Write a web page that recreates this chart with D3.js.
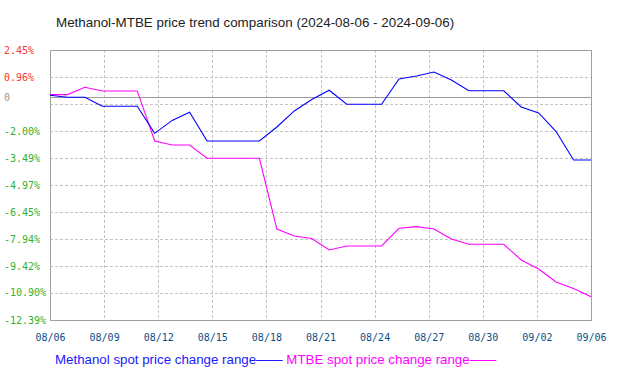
<!DOCTYPE html>
<html>
<head>
<meta charset="utf-8">
<script src="https://cdn.jsdelivr.net/npm/d3@7"></script>
<style>
    body { margin: 0; background: #ffffff; }
    svg  { display: block; }
</style>
</head>
<body>
<svg id="sketchbook"></svg>
<script>
// 日次データ (2024)
const dates = [
    "08-06", "08-07", "08-08", "08-09", "08-10", "08-11", "08-12", "08-13",
    "08-14", "08-15", "08-16", "08-17", "08-18", "08-19", "08-20", "08-21",
    "08-22", "08-23", "08-24", "08-25", "08-26", "08-27", "08-28", "08-29",
    "08-30", "08-31", "09-01", "09-02", "09-03", "09-04", "09-05", "09-06"
];
const methanolChange = [
    -0.04, -0.15, -0.15, -0.64, -0.64, -0.64, -2.13, -1.42,
    -0.97, -2.55, -2.55, -2.55, -2.55, -1.78, -0.90, -0.27,
     0.24, -0.53, -0.53, -0.53,  0.86,  1.02,  1.24,  0.80,
     0.21,  0.21,  0.21, -0.68, -1.01, -2.03, -3.60, -3.60
];
const mtbeChange = [
     0.00,  0.00,  0.40,  0.20,  0.20,  0.20, -2.55, -2.77,
    -2.77, -3.50, -3.50, -3.50, -3.50, -7.39, -7.77, -7.91,
    -8.54, -8.32, -8.32, -8.32, -7.35, -7.26, -7.39, -7.94,
    -8.23, -8.23, -8.23, -9.09, -9.59, -10.30, -10.66, -11.11
];
const yTickValues = [2.45, 0.96, -0.52, -2.00, -3.49, -4.97, -6.45, -7.94, -9.42, -10.90, -12.39];
const yTickLabels = ["2.45%", "0.96%", "", "-2.00%", "-3.49%", "-4.97%", "-6.45%", "-7.94%", "-9.42%", "-10.90%", "-12.39%"];
const xTickLabels = ["08/06", "08/09", "08/12", "08/15", "08/18", "08/21", "08/24", "08/27", "08/30", "09/02", "09/06"];
const titleText = "Methanol-MTBE price trend comparison (2024-08-06 - 2024-09-06)";
const seriesNames = ["Methanol spot price change range", "MTBE spot price change range"];

const W = 619, H = 379;
const box = { left: 50, right: 591, top: 50, bottom: 320 };
const monoFont = "'DejaVu Sans Mono', monospace";
const sansFont = "'Liberation Sans', Arial, sans-serif";

const parseDay = d3.timeParse("%Y-%m-%d");
const days = dates.map((d) => { return parseDay("2024-" + d); });

const svg = d3.select("#sketchbook")
    .attr("width", W)
    .attr("height", H);

svg.append("rect")
    .attr("width", W)
    .attr("height", H)
    .attr("fill", "#ffffff");

const x = d3.scaleTime()
    .domain([days[0], days[days.length - 1]])
    .range([box.left, box.right]);

const xTick = d3.scalePoint()
    .domain(xTickLabels)
    .range([box.left, box.right]);

const y = d3.scaleLinear()
    .domain([yTickValues[yTickValues.length - 1], yTickValues[0]])
    .range([box.bottom, box.top]);

// grid
const grid = svg.append("g").attr("class", "grid")
    .attr("stroke", "#c4c4c4")
    .attr("stroke-width", 1)
    .attr("stroke-dasharray", "3,2")
    .attr("shape-rendering", "crispEdges");

grid.selectAll("line.h")
    .data(yTickValues.slice(1, -1))
    .enter()
    .append("line")
    .attr("class", "h")
    .attr("x1", box.left)
    .attr("x2", box.right)
    .attr("y1", (d) => { return Math.round(y(d)) + 0.5; })
    .attr("y2", (d) => { return Math.round(y(d)) + 0.5; });

grid.selectAll("line.v")
    .data(xTickLabels.slice(1, -1))
    .enter()
    .append("line")
    .attr("class", "v")
    .attr("x1", (d) => { return Math.round(xTick(d)) + 0.5; })
    .attr("x2", (d) => { return Math.round(xTick(d)) + 0.5; })
    .attr("y1", box.top)
    .attr("y2", box.bottom);

// zero line (drawn slightly below the scale's zero, as in the source chart)
const zeroY = Math.round(y(0) + 2.7) + 0.5;
svg.append("line")
    .attr("x1", box.left)
    .attr("x2", box.right)
    .attr("y1", zeroY)
    .attr("y2", zeroY)
    .attr("stroke", "#999999")
    .attr("stroke-width", 1)
    .attr("shape-rendering", "crispEdges");

// frame
svg.append("rect")
    .attr("x", box.left + 0.5)
    .attr("y", box.top + 0.5)
    .attr("width", box.right - box.left)
    .attr("height", box.bottom - box.top)
    .attr("fill", "none")
    .attr("stroke", "#a0a0a0")
    .attr("stroke-width", 1)
    .attr("shape-rendering", "crispEdges");

// series
const line = d3.line()
    .x((d, i) => { return x(days[i]); })
    .y((d) => { return y(d); });

const series = [
    { values: mtbeChange,     color: "#ff00ff" },
    { values: methanolChange, color: "#0000ff" },
];

svg.selectAll("path.series")
    .data(series)
    .enter()
    .append("path")
    .attr("class", "series")
    .attr("d", (d) => { return line(d.values); })
    .attr("fill", "none")
    .attr("stroke", (d) => { return d.color; })
    .attr("stroke-width", 1.1);

// y labels
const yColor = (v) => { return v > 0 ? "#ff3030" : "#30b030"; };

svg.selectAll("text.ylab")
    .data(yTickValues.map((v, i) => { return { v: v, label: yTickLabels[i] }; })
        .filter((d) => { return d.label !== ""; }))
    .enter()
    .append("text")
    .attr("class", "ylab")
    .attr("x", 4)
    .attr("y", (d) => { return y(d.v); })
    .attr("dy", "0.36em")
    .attr("font-family", monoFont)
    .attr("font-size", "10px")
    .attr("fill", (d) => { return yColor(d.v); })
    .text((d) => { return d.label; });

svg.append("text")
    .attr("x", 4)
    .attr("y", zeroY)
    .attr("dy", "0.36em")
    .attr("font-family", monoFont)
    .attr("font-size", "10px")
    .attr("fill", "#999999")
    .text("0");

// x labels
const xAxis = svg.append("g")
    .attr("transform", "translate(0," + (box.bottom + 14) + ")")
    .call(d3.axisBottom(xTick).tickSize(0).tickPadding(0));

xAxis.select(".domain").remove();
xAxis.selectAll("text")
    .attr("font-family", monoFont)
    .attr("font-size", "10px")
    .attr("fill", "#0a4f86");

// title
svg.append("text")
    .attr("x", 56)
    .attr("y", 26.5)
    .attr("font-family", sansFont)
    .attr("font-size", "13.4px")
    .attr("fill", "#222222")
    .text(titleText);

// legend
const legend = svg.append("text")
    .attr("x", 55)
    .attr("y", 364)
    .attr("font-family", sansFont)
    .attr("font-size", "13.3px");

legend.append("tspan")
    .attr("fill", "#1a1aff")
    .text(seriesNames[0] + "—— ");

legend.append("tspan")
    .attr("fill", "#ff00ff")
    .text(seriesNames[1] + "——");
</script>
</body>
</html>
